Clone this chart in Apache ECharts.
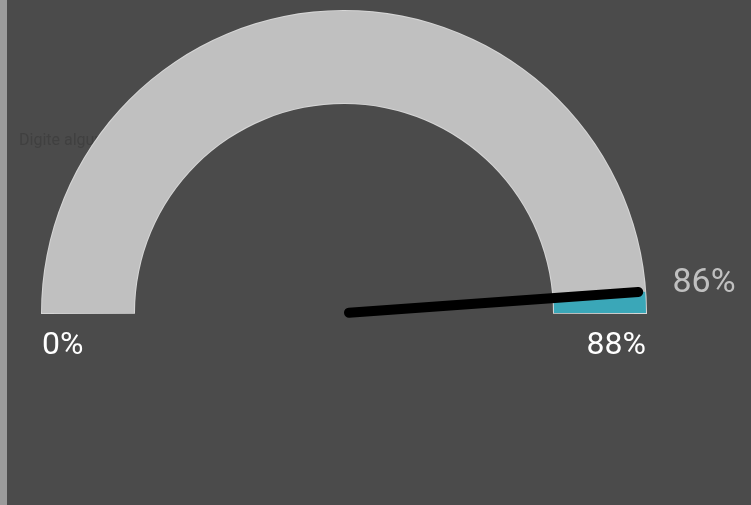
<!DOCTYPE html>
<html lang="pt-BR" style="height: 100%">
<head>
  <meta charset="utf-8">
</head>
<body style="height: 100%; margin: 0; background: #4b4b4b">
  <div id="container" style="height: 100%; position: relative"></div>
  <div style="position: absolute; left: 0; top: 0; width: 7px; height: 100%; background: #9b9b9b"></div>

  <script type="text/javascript" src="https://fastly.jsdelivr.net/npm/echarts@6/dist/echarts.min.js"></script>

  <script type="text/javascript">
    var dom = document.getElementById('container');
    var myChart = echarts.init(dom, null, { renderer: 'canvas' });
    var option;

    // valores
    const gaugeMin = 0;
    const gaugeMax = 88;
    const currentValue = 86;
    const placeholderText = 'Digite algum texto';

    const fontFamily = "Roboto, 'Liberation Sans', sans-serif";
    const arcColor = '#c0c0c0';
    const restColor = '#3aa7b8';

    option = {
      backgroundColor: '#4b4b4b',
      animation: false,
      title: {
        text: placeholderText,
        left: 14,
        top: 128,
        z: 0,
        textStyle: {
          color: '#404040',
          fontSize: 16,
          fontWeight: 'normal',
          fontFamily: fontFamily
        }
      },
      series: [
        {
          // contorno claro do arco
          type: 'gauge',
          center: [344, 313],
          radius: 303,
          startAngle: 180.2,
          endAngle: -0.2,
          min: gaugeMin,
          max: gaugeMax,
          silent: true,
          axisLine: { lineStyle: { width: 94, color: [[1, '#d6d6d6']] } },
          splitLine: { show: false },
          axisTick: { show: false },
          axisLabel: { show: false },
          pointer: { show: false },
          anchor: { show: false },
          title: { show: false },
          detail: { show: false },
          data: [{ value: currentValue }]
        },
        {
          type: 'gauge',
          center: [344, 313],
          radius: 302,
          startAngle: 180,
          endAngle: 0,
          min: gaugeMin,
          max: gaugeMax,
          splitNumber: 1,
          axisLine: {
            lineStyle: {
              width: 92,
              color: [
                [(currentValue - gaugeMin) / (gaugeMax - gaugeMin), arcColor],
                [1, restColor]
              ]
            }
          },
          splitLine: { show: false, length: 0, distance: 0 },
          axisTick: { show: false },
          axisLabel: {
            distance: 0,
            color: '#ffffff',
            fontSize: 32,
            lineHeight: 66,
            fontFamily: fontFamily,
            formatter: function (v) {
              return '\n' + v + '%';
            }
          },
          pointer: {
            icon: 'path://M0,5A5,5 0 0 1 10,5L10,295A5,5 0 0 1 0,295Z',
            length: 300,
            width: 10,
            itemStyle: { color: '#000000' }
          },
          anchor: { show: false },
          title: { show: false },
          detail: {
            offsetCenter: [360, -30],
            formatter: '{value}%',
            color: arcColor,
            fontSize: 34,
            fontWeight: 'normal',
            fontFamily: fontFamily
          },
          data: [{ value: currentValue }]
        }
      ]
    };

    if (option && typeof option === 'object') {
      myChart.setOption(option);
    }

    window.addEventListener('resize', myChart.resize);
  </script>
</body>
</html>
